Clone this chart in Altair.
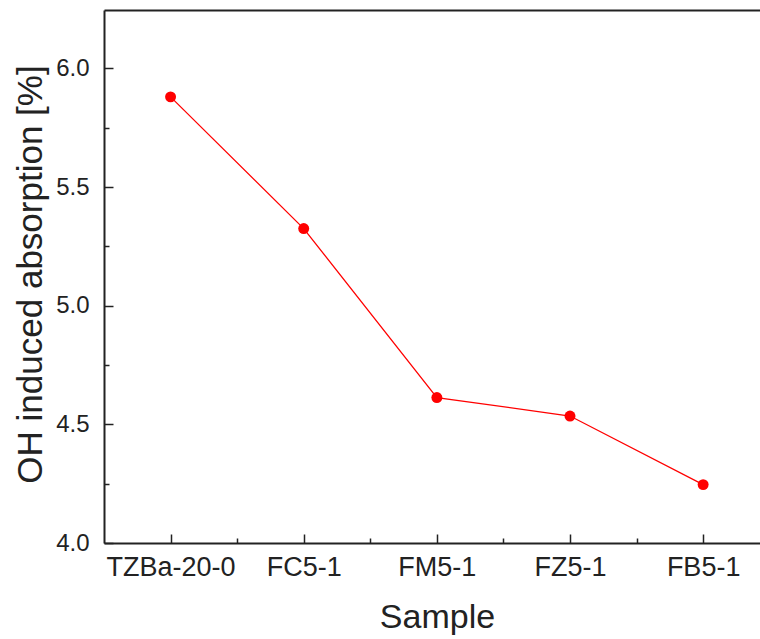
import altair as alt
import pandas as pd

samples = ["TZBa-20-0", "FC5-1", "FM5-1", "FZ5-1", "FB5-1"]
positions = [1, 2, 3, 4, 5]
absorption = [5.880, 5.325, 4.613, 4.535, 4.246]

y_major = [4.0, 4.5, 5.0, 5.5, 6.0]
y_minor = [4.25, 4.75, 5.25, 5.75]
x_minor = [1.5, 2.5, 3.5, 4.5]

df = pd.DataFrame({"pos": positions, "sample": samples, "val": absorption})

W, H = 656, 533
FONT = "Liberation Sans"
AX = "#222222"

label_expr = "[" + ",".join("'%s'" % s for s in samples) + "][round(datum.value) - 1]"

xscale = alt.Scale(domain=[0.5, 5.427], nice=False, zero=False)
yscale = alt.Scale(domain=[4.0, 6.246], nice=False, zero=False)

base = alt.Chart(df)

main_line = base.mark_line(color="#ff0000", strokeWidth=1.3).encode(
    x=alt.X("pos:Q", scale=xscale,
            axis=alt.Axis(values=positions, labelExpr=label_expr, title="Sample",
                          orient="bottom", domain=True, domainColor=AX, domainWidth=2,
                          ticks=False, tickSize=0, grid=False,
                          labelFont=FONT, labelFontSize=27, labelColor=AX,
                          labelPadding=11, labelBaseline="top",
                          titleFont=FONT, titleFontSize=34, titleFontWeight="normal",
                          titleColor=AX, titleX=333, titleY=84, titleBaseline="alphabetic",
                          titleAlign="center")),
    y=alt.Y("val:Q", scale=yscale,
            axis=alt.Axis(values=y_major, format=".1f", title="OH induced absorption [%]",
                          orient="left", domain=True, domainColor=AX, domainWidth=2,
                          ticks=False, tickSize=0, grid=False,
                          labelFont=FONT, labelFontSize=24, labelColor=AX,
                          labelPadding=15, labelBaseline="middle",
                          titleFont=FONT, titleFontSize=35, titleFontWeight="normal",
                          titleColor=AX, titleAngle=270, titleX=-74, titleY=264,
                          titleAlign="center", titleBaseline="middle")),
)

points = base.mark_circle(color="#ff0000", opacity=1, size=120).encode(
    x=alt.X("pos:Q", scale=xscale, axis=None),
    y=alt.Y("val:Q", scale=yscale, axis=None),
)

helper_a = base.mark_point(opacity=0).encode(
    x=alt.X("pos:Q", scale=xscale,
            axis=alt.Axis(orient="top", domain=True, domainColor=AX, domainWidth=2,
                          ticks=False, labels=False, title=None, grid=False)),
    y=alt.Y("val:Q", scale=yscale,
            axis=alt.Axis(orient="right", offset=-W, values=y_major, domain=False,
                          ticks=True, tickSize=9, tickColor=AX, tickWidth=1.5,
                          labels=False, title=None, grid=False)),
)

helper_b = base.mark_point(opacity=0).encode(
    x=alt.X("pos:Q", scale=xscale,
            axis=alt.Axis(orient="top", offset=-H, values=positions, domain=False,
                          ticks=True, tickSize=9, tickColor=AX, tickWidth=1.5,
                          labels=False, title=None, grid=False)),
    y=alt.Y("val:Q", scale=yscale,
            axis=alt.Axis(orient="right", offset=-W, values=y_minor, domain=False,
                          ticks=True, tickSize=5, tickColor=AX, tickWidth=1.5,
                          labels=False, title=None, grid=False)),
)

helper_c = base.mark_point(opacity=0).encode(
    x=alt.X("pos:Q", scale=xscale,
            axis=alt.Axis(orient="top", offset=-H, values=x_minor, domain=False,
                          ticks=True, tickSize=5, tickColor=AX, tickWidth=1.5,
                          labels=False, title=None, grid=False)),
    y=alt.Y("val:Q", scale=yscale, axis=None),
)

chart = alt.layer(main_line, points, helper_a, helper_b, helper_c).resolve_axis(
    x="independent", y="independent"
).properties(
    width=W, height=H,
    autosize=alt.AutoSizeParams(type="none"),
    padding={"left": 104, "top": 10, "right": 0, "bottom": 96},
    background="white",
).configure_view(stroke=None)

chart.save("out.html", embed_options={"renderer": "svg", "actions": False})
